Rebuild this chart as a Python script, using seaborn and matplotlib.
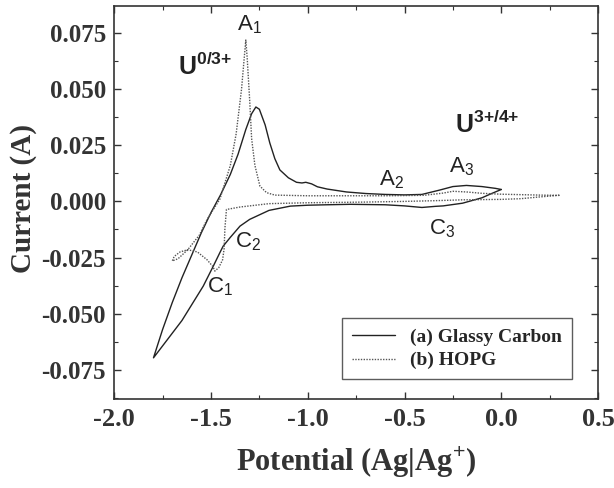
import numpy as np
import pandas as pd
import matplotlib
matplotlib.use("Agg")
import matplotlib.pyplot as plt
from matplotlib.ticker import MultipleLocator, FormatStrFormatter
import seaborn as sns

# Glassy Carbon (solid), sweep order: 0.0 V -> -1.8 V -> 0.0 V
gc_v = [0.00, -0.05, -0.10, -0.20, -0.30, -0.34, -0.41, -0.50, -0.60, -0.78,
        -0.90, -1.00, -1.09, -1.20, -1.30, -1.35, -1.40, -1.437, -1.454, -1.488,
        -1.54, -1.65, -1.797,
        -1.75, -1.70, -1.65, -1.60, -1.55, -1.50, -1.45, -1.40, -1.36, -1.32,
        -1.29, -1.268, -1.25, -1.22, -1.196, -1.17, -1.144, -1.10, -1.058, -1.03,
        -1.01, -0.98, -0.95, -0.90, -0.80, -0.70, -0.60, -0.50, -0.41, -0.32,
        -0.25, -0.18, -0.10, -0.03, 0.00]
gc_i = [0.0053, 0.0035, 0.0016, -0.0008, -0.0020, -0.0022, -0.0027, -0.0020, -0.0015, -0.0013,
        -0.0015, -0.0017, -0.0021, -0.0040, -0.0080, -0.0110, -0.0160, -0.0199, -0.0228, -0.0288,
        -0.0377, -0.0530, -0.0696,
        -0.0570, -0.0450, -0.0340, -0.0240, -0.0140, -0.0050, 0.0030, 0.0120, 0.0210, 0.0320,
        0.0390, 0.0420, 0.0410, 0.0340, 0.0260, 0.0190, 0.0140, 0.0105, 0.0085, 0.0082,
        0.0085, 0.0078, 0.0065, 0.0055, 0.0042, 0.0035, 0.0031, 0.0029, 0.0031, 0.0050,
        0.0066, 0.0071, 0.0066, 0.0058, 0.0053]

# HOPG (dotted), sweep order: 0.3 V -> -1.7 V -> 0.3 V
hopg_v = [0.30, 0.20, 0.10, 0.00, -0.20, -0.35, -0.50, -0.70, -1.00, -1.20,
          -1.35, -1.42, -1.428, -1.432, -1.44, -1.46, -1.48, -1.49, -1.52, -1.57,
          -1.62, -1.66, -1.69, -1.70,
          -1.67, -1.62, -1.56, -1.52, -1.454, -1.40, -1.37, -1.342, -1.33, -1.32,
          -1.313, -1.30, -1.29, -1.273, -1.247, -1.213, -1.17, -1.00, -0.80, -0.60,
          -0.40, -0.30, -0.25, -0.18, -0.10, 0.00, 0.10, 0.20, 0.30]
hopg_i = [0.0027, 0.0020, 0.0012, 0.0009, 0.0007, 0.0003, 0.0000, -0.0003, -0.0006, -0.0010,
          -0.0025, -0.0036, -0.0120, -0.0210, -0.0260, -0.0295, -0.0310, -0.0290, -0.0260, -0.0225,
          -0.0215, -0.0225, -0.0245, -0.0265,
          -0.0255, -0.0215, -0.0150, -0.0080, 0.0010, 0.0160, 0.0300, 0.0500, 0.0620, 0.0718,
          0.0640, 0.0450, 0.0280, 0.0160, 0.0068, 0.0039, 0.0028, 0.0025, 0.0025, 0.0025,
          0.0027, 0.0037, 0.0045, 0.0042, 0.0036, 0.0032, 0.0030, 0.0028, 0.0027]

# peak labels (letter, subscript, x, y)
peak_labels = [("A", "1", -1.299, 0.0788), ("A", "2", -0.567, 0.0098),
               ("A", "3", -0.206, 0.0156), ("C", "1", -1.454, -0.0378),
               ("C", "2", -1.309, -0.0178), ("C", "3", -0.304, -0.0120)]
couple_labels = [("U$^{\\mathbf{0/3{+}}}$", -1.531, 0.0600),
                 ("U$^{\\mathbf{3{+}/4{+}}}$", -0.072, 0.0343)]

sns.set_style("ticks")
plt.rcParams["font.family"] = ["Liberation Serif", "DejaVu Serif"]
plt.rcParams["mathtext.fontset"] = "custom"
plt.rcParams["mathtext.rm"] = "Liberation Sans"
plt.rcParams["mathtext.bf"] = "Liberation Sans:bold"
plt.rcParams["axes.unicode_minus"] = False

fig, ax = plt.subplots(figsize=(6.14, 4.88), dpi=100)
fig.subplots_adjust(left=0.186, right=0.974, bottom=0.182, top=0.988)

sns.lineplot(x=gc_v, y=gc_i, sort=False, estimator=None, ax=ax,
             color="#222222", lw=1.0, label="(a) Glassy Carbon")
sns.lineplot(x=hopg_v, y=hopg_i, sort=False, estimator=None, ax=ax,
             color="#555555", lw=1.0, linestyle=(0, (1, 1)), label="(b) HOPG")

ax.set_xlim(-2.0, 0.5)
ax.set_ylim(-0.088, 0.087)
ax.xaxis.set_major_locator(MultipleLocator(0.5))
ax.xaxis.set_minor_locator(MultipleLocator(0.25))
ax.yaxis.set_major_locator(MultipleLocator(0.025))
ax.yaxis.set_minor_locator(MultipleLocator(0.0125))
ax.xaxis.set_major_formatter(FormatStrFormatter("%.1f"))
ax.yaxis.set_major_formatter(FormatStrFormatter("%.3f"))
ax.tick_params(which="both", direction="in", top=True, right=True, color="#333333")
ax.tick_params(axis="y", which="major", length=5, width=1.0, labelsize=18, pad=6)
ax.tick_params(axis="x", which="major", length=5, width=1.0, labelsize=19, pad=6)
ax.tick_params(which="minor", length=3, width=0.8)
for lab in ax.get_xticklabels() + ax.get_yticklabels():
    lab.set_fontweight("bold")
    lab.set_color("#333333")
for sp in ax.spines.values():
    sp.set_linewidth(1.2)
    sp.set_color("#333333")

ax.set_xlabel("Potential (Ag|Ag$^{+}$)", fontsize=22, fontweight="bold", color="#333333", labelpad=10)
ax.set_ylabel("Current (A)", fontsize=21, fontweight="bold", color="#333333")
ax.yaxis.set_label_coords(-0.16, 0.51)

for txt, sub, x, y in peak_labels:
    ax.text(x, y, f"{txt}$_{{{sub}}}$", fontsize=16, family="Liberation Sans",
            ha="center", va="center", color="#222222")
for txt, x, y in couple_labels:
    ax.text(x, y, txt, fontsize=18, family="Liberation Sans", fontweight="bold",
            ha="center", va="center", color="#222222")

leg = ax.legend(loc="lower right", bbox_to_anchor=(0.946, 0.051), borderaxespad=0,
                frameon=True, fancybox=False, edgecolor="#333333", handlelength=2.2,
                prop={"family": "Liberation Serif", "weight": "bold", "size": 14},
                labelspacing=0.3, borderpad=0.5)
leg.get_frame().set_linewidth(1.0)

fig.savefig("out.png", dpi=100)
